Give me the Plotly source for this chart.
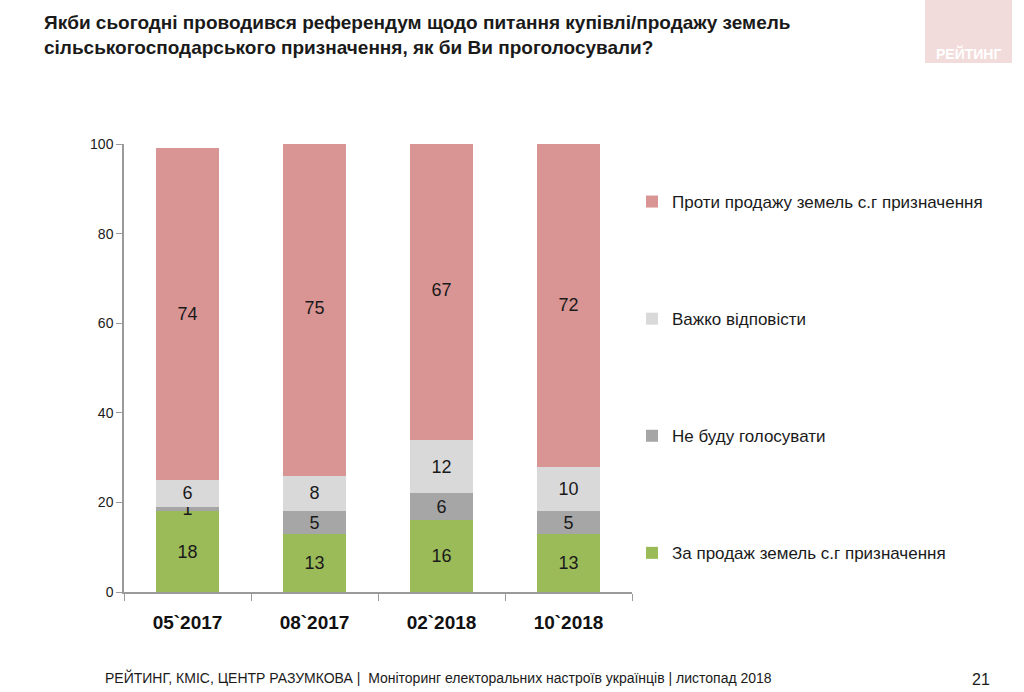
import plotly.graph_objects as go

categories = ["05`2017", "08`2017", "02`2018", "10`2018"]
za = [18, 13, 16, 13]
ne_budu = [1, 5, 6, 5]
vazhko = [6, 8, 12, 10]
proty = [74, 75, 67, 72]

series = [
    ("За продаж земель с.г призначення", za, "#9BBB59"),
    ("Не буду голосувати", ne_budu, "#A6A6A6"),
    ("Важко відповісти", vazhko, "#D9D9D9"),
    ("Проти продажу земель с.г призначення", proty, "#D99594"),
]

FONT = "Liberation Sans, Arial, sans-serif"

fig = go.Figure()
for i, (name, vals, col) in enumerate(series):
    fig.add_trace(go.Bar(
        x=categories, y=vals, name=name, marker_color=col,
        marker_line_width=0,
        text=[str(v) for v in vals], textposition="inside",
        insidetextanchor="middle", textangle=0,
        textfont=dict(size=18, color="#1a1a1a", family=FONT),
        legendgroup=f"g{i}", legendrank=len(series) - i,
    ))

def py(pix):
    return (592 - pix) / 448.0
def px(pix):
    return (pix - 124) / 508.0

fig.update_layout(
    barmode="stack",
    bargap=0.5,
    width=1024, height=692,
    paper_bgcolor="white", plot_bgcolor="white",
    margin=dict(l=124, r=392, t=144, b=100),
    font=dict(family=FONT, color="#1a1a1a"),
    uniformtext=dict(minsize=18, mode="show"),
    showlegend=True,
    legend=dict(
        traceorder="grouped", x=px(632), xanchor="left", y=py(184), yanchor="top",
        tracegroupgap=92, font=dict(size=17, family=FONT, color="#1a1a1a"),
        itemwidth=30, bgcolor="rgba(0,0,0,0)",
    ),
    xaxis=dict(
        showline=True, linecolor="#9a9a9a", linewidth=1.5,
        ticks="outside", tickson="boundaries", ticklen=7, tickcolor="#9a9a9a",
        tickfont=dict(size=19, family=FONT, color="#111111", weight="bold"),
        ticklabelstandoff=12,
        showgrid=False, zeroline=False,
    ),
    yaxis=dict(
        range=[0, 100], tickvals=[0, 20, 40, 60, 80, 100],
        showline=True, linecolor="#9a9a9a", linewidth=1.5,
        ticks="outside", ticklen=6, tickcolor="#9a9a9a",
        tickfont=dict(size=14, family=FONT, color="#1a1a1a"),
        showgrid=False, zeroline=False,
    ),
)

fig.add_annotation(
    xref="paper", yref="paper", x=px(42), y=py(10),
    text="<b>Якби сьогодні проводився референдум щодо питання купівлі/продажу земель<br>сільськогосподарського призначення, як би Ви проголосували?</b>",
    showarrow=False, xanchor="left", yanchor="top", align="left",
    font=dict(size=19, family=FONT, color="#1a1a1a"),
)
fig.add_shape(type="rect", xref="paper", yref="paper",
              x0=px(925), x1=px(1012), y0=py(63), y1=py(0),
              fillcolor="#F2DCDB", line_width=0, layer="below")
fig.add_annotation(
    xref="paper", yref="paper", x=px(968), y=py(53), text="<b>РЕЙТИНГ</b>",
    showarrow=False, xanchor="center", yanchor="middle",
    font=dict(size=14, family=FONT, color="white"),
)
fig.add_annotation(
    xref="paper", yref="paper", x=px(103), y=py(677),
    text="РЕЙТИНГ, КМІС, ЦЕНТР РАЗУМКОВА |  Моніторинг електоральних настроїв українців | листопад 2018",
    showarrow=False, xanchor="left", yanchor="middle",
    font=dict(size=14, family=FONT, color="#1a1a1a"),
)
fig.add_annotation(
    xref="paper", yref="paper", x=px(992), y=py(679), text="21",
    showarrow=False, xanchor="right", yanchor="middle",
    font=dict(size=16, family=FONT, color="#1a1a1a"),
)

fig.write_html("out.html", post_script="document.body.style.margin='0';",
               config={"displayModeBar": False})
